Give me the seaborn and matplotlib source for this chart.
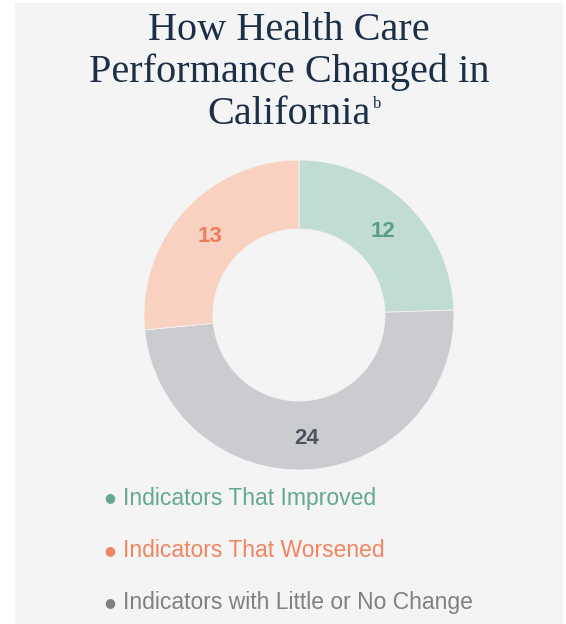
import matplotlib
matplotlib.use("Agg")
import matplotlib.pyplot as plt
from matplotlib.patches import Rectangle
import seaborn as sns

# data, in drawing order (clockwise from top)
categories = ["Indicators That Improved", "Indicators with Little or No Change", "Indicators That Worsened"]
counts = [12, 24, 13]
slice_colors = ["#c1dcd3", "#cbccd0", "#f9d1c1"]
label_colors = ["#5a9e84", "#4f5360", "#ef7c58"]

# legend order as shown under the chart
legend_labels = ["Indicators That Improved", "Indicators That Worsened", "Indicators with Little or No Change"]
legend_colors = ["#64a88d", "#f08562", "#808080"]

title_lines = ["How Health Care", "Performance Changed in", "California"]

sns.set_theme(style="white")

W, H = 566, 624
fig = plt.figure(figsize=(W / 100, H / 100), dpi=100)
fig.patch.set_facecolor("white")
fig.patches.append(Rectangle((15 / W, 0), 548 / W, 621 / H, transform=fig.transFigure,
                             facecolor="#f4f4f4", edgecolor="none", zorder=-10))

# donut: center (299, 315) px, outer radius 155 px
cx, cy, r = 299, 315, 155
ax = fig.add_axes([(cx - r) / W, 1 - (cy + r) / H, 2 * r / W, 2 * r / H])
ax.set_facecolor("none")
ax.set_zorder(5)

total = sum(counts)
wedges, _, autotexts = ax.pie(
    counts, colors=slice_colors, startangle=90, counterclock=False,
    radius=1, pctdistance=0.78,
    autopct=lambda p: f"{round(p * total / 100)}",
    wedgeprops=dict(width=69 / 155, edgecolor="#f4f4f4", linewidth=0.6),
)
for t, c in zip(autotexts, label_colors):
    t.set_color(c)
    t.set_fontsize(16)
    t.set_fontweight("bold")
    t.set_fontfamily("Liberation Sans")
    x, y = t.get_position()
    t.set_position((x, y - 0.02))
ax.set_xlim(-1, 1)
ax.set_ylim(-1, 1)
ax.set_aspect("equal")

# title, one text per line, baselines at 40 / 82 / 124 px
last = None
for i, line in enumerate(title_lines):
    last = fig.text(289 / W, 1 - (40 + 42 * i) / H, line, ha="center", va="baseline",
                    fontsize=29, family="Liberation Serif", color="#1b2f47")
ax.annotate("b", xy=(1, 0.78), xycoords=last, xytext=(2, 0), textcoords="offset points",
            ha="left", va="center", fontsize=12, family="Liberation Serif",
            color="#1b2f47", annotation_clip=False)

# legend
for i, (lab, col) in enumerate(zip(legend_labels, legend_colors)):
    y = 1 - (498 + 52.5 * i) / H
    fig.text(110 / W, y, "●", ha="center", va="center", fontsize=9,
             family="DejaVu Sans", color=col)
    fig.text(123 / W, y, lab, ha="left", va="center", fontsize=16.5,
             family="Liberation Sans", color=col)

fig.savefig("out.png", dpi=100, facecolor=fig.get_facecolor())
